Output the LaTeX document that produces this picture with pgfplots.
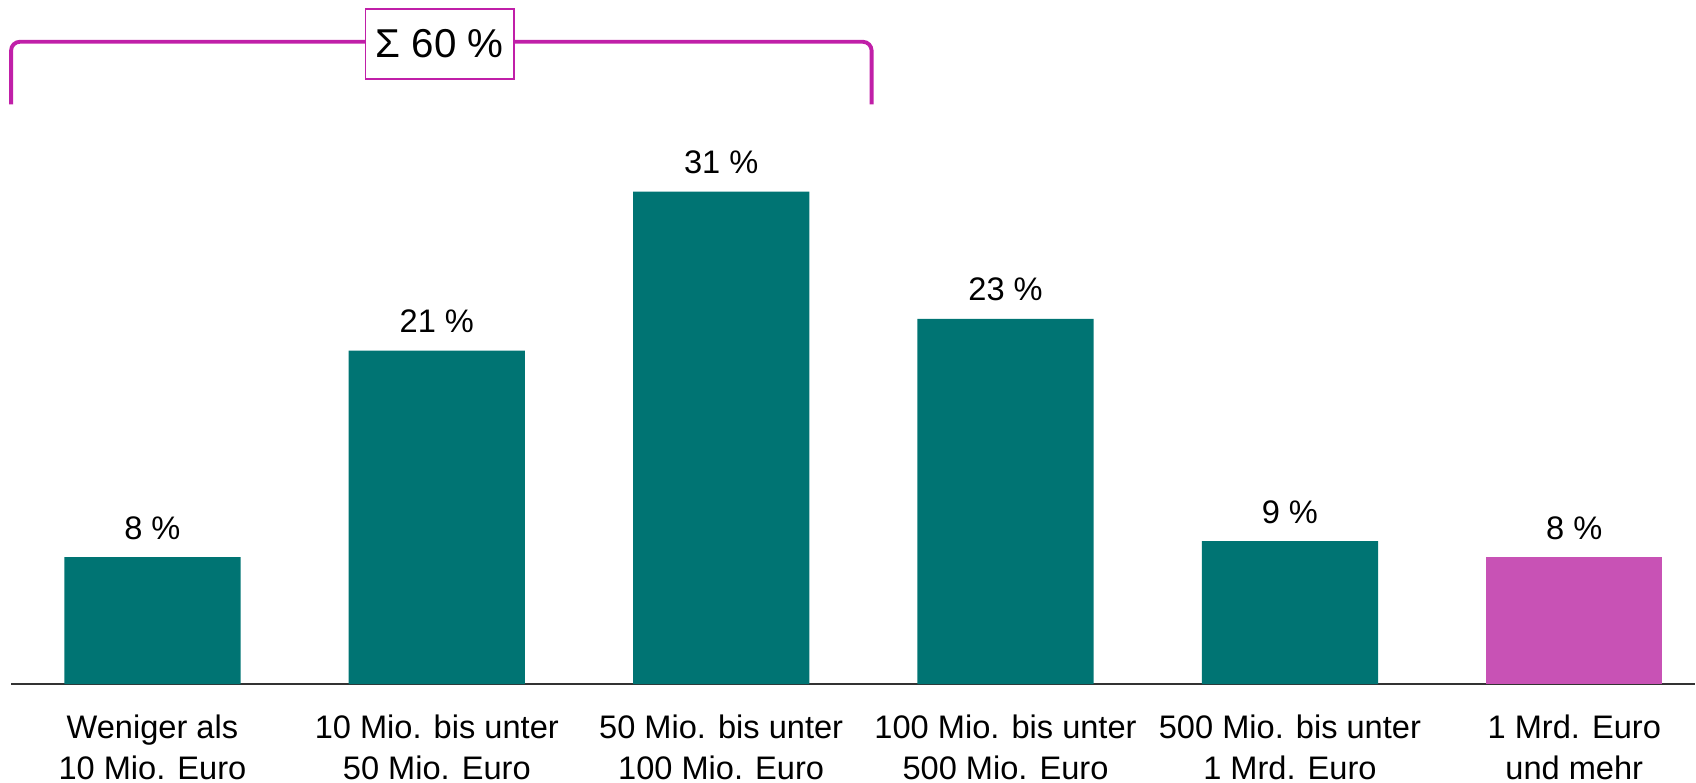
\documentclass[border=0pt]{standalone}
\usepackage{fontspec}
\setmainfont{Liberation Sans}
\usepackage{pgfplots}
\pgfplotsset{compat=1.18}
\definecolor{teal1}{HTML}{007473}
\definecolor{pink1}{HTML}{C852B5}
\definecolor{brack}{HTML}{C01FA8}
\begin{document}
\begin{tikzpicture}
\begin{axis}[
    scale only axis,
    width=17cm,
    height=195.2pt,
    xmin=-0.536, xmax=5.425,
    ymin=0, ymax=43.07,
    axis lines=none,
    clip=false,
    xtick={0,1,2,3,4,5},
    xticklabels={},
    /pgf/number format/assume math mode=true,
    nodes near coords={\pgfmathprintnumber{\pgfplotspointmeta}~\%},
    every node near coord/.append style={font=\fontsize{9.3}{11}\selectfont, anchor=south, yshift=1.5pt, text=black},
]
% fixed picture frame
\path (axis cs:-0.536,43.07) (axis cs:5.425,-6.2);
% Baseline
\draw[black!80, line width=0.5pt] (axis cs:-0.497,0) -- (axis cs:5.425,0);

\addplot[ybar, bar width=0.62, fill=teal1, draw=none] coordinates {
    (0,8) (1,21) (2,31) (3,23) (4,9)
};
\addplot[ybar, bar width=0.62, fill=pink1, draw=none] coordinates {
    (5,8)
};

% Category labels
\foreach \x/\lab in {0/{Weniger als\\10 Mio. Euro},
                     1/{10 Mio. bis unter\\50 Mio. Euro},
                     2/{50 Mio. bis unter\\100 Mio. Euro},
                     3/{100 Mio. bis unter\\500 Mio. Euro},
                     4/{500 Mio. bis unter\\1 Mrd. Euro},
                     5/{1 Mrd. Euro\\und mehr}} {
    \edef\temp{\noexpand\node[anchor=north, align=center, font=\noexpand\fontsize{9.3}{11.6}\noexpand\selectfont, inner sep=0pt] at (axis cs:\x,-1.9) {\unexpanded\expandafter{\lab}};}
    \temp
}

% Bracket
\draw[brack, line width=1.1pt, rounded corners=2.5pt]
    (axis cs:-0.497,36.5) -- (axis cs:-0.497,40.44) -- (axis cs:2.529,40.44) -- (axis cs:2.529,36.5);
\node[draw=brack, line width=0.5pt, fill=white, minimum width=42.3pt, minimum height=19.9pt,
      inner sep=0pt, font=\fontsize{11.5}{13}\selectfont] at (axis cs:1.01,40.3) {Σ 60 \%};
\end{axis}
\end{tikzpicture}
\end{document}
